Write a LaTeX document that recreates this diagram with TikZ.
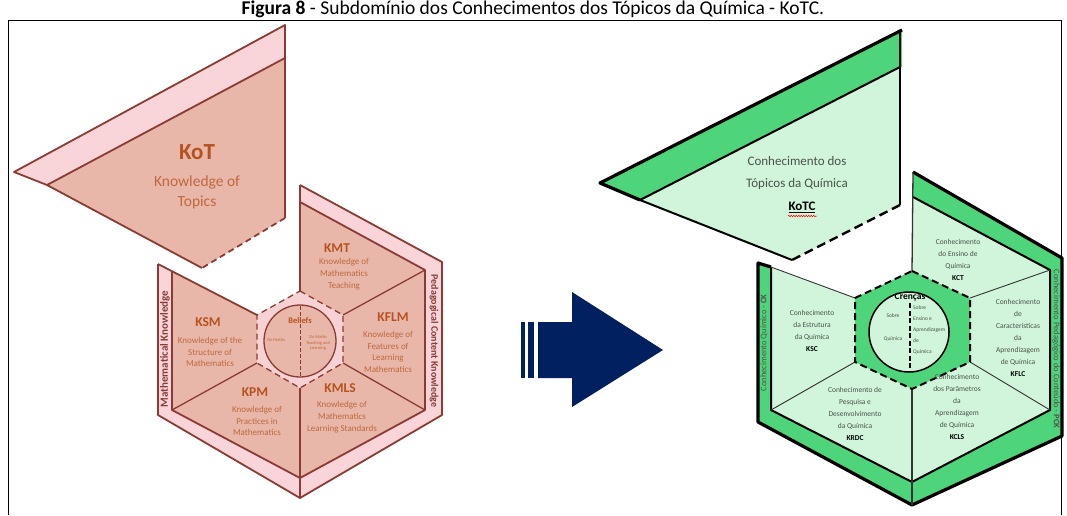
\documentclass[tikz,border=0pt]{standalone}
\usepackage{fontspec}
\setmainfont{Carlito}
\usetikzlibrary{decorations.pathmorphing}

\definecolor{mtskline}{RGB}{138,59,51}
\definecolor{mtskstrip}{RGB}{249,212,216}
\definecolor{mtskfill}{RGB}{233,183,170}
\definecolor{mtskhex}{RGB}{246,210,212}
\definecolor{mtsktitle}{RGB}{181,82,30}
\definecolor{mtsktext}{RGB}{190,104,60}
\definecolor{kotcstrip}{RGB}{78,212,122}
\definecolor{kotcfill}{RGB}{208,245,218}
\definecolor{kotctext}{RGB}{75,82,75}
\definecolor{arrowblue}{RGB}{0,32,96}

\tikzset{
  pinkline/.style={draw=mtskline, line width=1.8pt, line join=round},
  pinkthin/.style={draw=mtskline, line width=1.3pt},
  greenouter/.style={draw=black, line width=3.2pt, line join=round},
  greenline/.style={draw=black, line width=2pt, line join=round},
  greenthin/.style={draw=black!80, line width=0.9pt},
  hexdash/.style={dash pattern=on 6pt off 4pt},
  sectortitle/.style={text=mtsktitle, font=\bfseries\fontsize{13.5}{14}\selectfont},
  sectortext/.style={text=mtsktext, align=center, font=\fontsize{9}{11.7}\selectfont},
  quimtext/.style={text=kotctext, align=center, font=\fontsize{7.5}{11.9}\selectfont},
  sidelabel/.style={font=\bfseries\fontsize{11}{11}\selectfont, text=mtskline},
}

\begin{document}
\begin{tikzpicture}[x=1pt, y=-1pt]
\useasboundingbox (0,0) rectangle (1067,515);

% title and frame
\node[anchor=base, font=\fontsize{19.5}{20}\selectfont, inner sep=0pt] (title) at (533,14)
  {\textbf{Figura 8} - Subdomínio dos Conhecimentos dos Tópicos da Química - KoTC.};
\draw[line width=1pt] (8,515) -- (8,20) -- (1061,20) -- (1061,515);

%%% MTSK (left)
% KoT piece
\fill[mtskstrip] (14,172) -- (285,25) -- (285,58) -- (47,185) -- cycle;
\fill[mtskfill] (47,185) -- (285,58) -- (285,218) -- (202,268) -- cycle;
\draw[pinkline] (47,185) -- (14,172) -- (285,25) -- (285,218);
\draw[pinkline] (202,268) -- (47,185) -- (285,58);
\draw[pinkline, hexdash] (285,218) -- (202,268);

% hexagon strips and sectors
\fill[mtskstrip] (300,185) -- (442,262) -- (442,415) -- (300,498) -- (300,478)
  -- (425,410) -- (425,270) -- (300,202) -- cycle;
\fill[mtskstrip] (158,264) -- (172,271) -- (172,410) -- (300,478) -- (300,498)
  -- (158,415) -- cycle;
\fill[mtskfill] (300,202) -- (425,270) -- (425,410) -- (300,478) -- (172,410)
  -- (172,271) -- (257,315) -- (300,291) -- cycle;
\draw[pinkline] (300,185) -- (442,262) -- (442,415) -- (300,498) -- (158,415) -- (158,264);
\draw[pinkline] (300,202) -- (425,270) -- (425,410) -- (300,478) -- (172,410) -- (172,271);
\draw[pinkline] (158,264) -- (257,315);
\draw[pinkline] (300,185) -- (300,291);
\draw[pinkline] (300,388) -- (300,498);
\draw[pinkthin] (343,315) -- (425,270);
\draw[pinkthin] (343,363) -- (425,410);
\draw[pinkthin] (257,363) -- (172,410);

% beliefs
\fill[mtskhex] (300,291) -- (343,315) -- (343,363) -- (300,388) -- (257,363) -- (257,315) -- cycle;
\draw[pinkthin, hexdash] (300,291) -- (343,315) -- (343,363) -- (300,388) -- (257,363) -- (257,315) -- cycle;
\draw[pinkthin, fill=mtskfill] (300,341) circle (36);
\draw[pinkthin, line width=1pt, dash pattern=on 4pt off 2pt] (300,306) -- (300,377);

\node[text=mtsktitle, font=\bfseries\fontsize{8.5}{9}\selectfont] (beliefs) at (300,321) {Beliefs};
\node[text=mtsktext, font=\fontsize{4.5}{5.5}\selectfont] (onmaths) at (276,340) {On Maths};
\node[text=mtsktext, align=center, font=\fontsize{4.5}{5.5}\selectfont] (onteach) at (318,343)
  {On Maths\\Teaching and\\Learning};

% KoT text
\node[text=mtsktitle, font=\bfseries\fontsize{23}{23}\selectfont] (kot) at (197,152) {KoT};
\node[text=mtsktext, align=center, font=\fontsize{15.5}{20}\selectfont] (kotname) at (197,192)
  {Knowledge of\\Topics};

% sectors
\node[sectortitle] (kmt) at (337,248) {KMT};
\node[sectortext] (kmtname) at (344,274) {Knowledge of\\Mathematics\\Teaching};
\node[sectortitle] (kflm) at (393,317) {KFLM};
\node[sectortext] (kflmname) at (388,352) {Knowledge of\\Features of\\Learning\\Mathematics};
\node[sectortitle] (kmls) at (340,388) {KMLS};
\node[sectortext] (kmlsname) at (342,417) {Knowledge of\\Mathematics\\Learning Standards};
\node[sectortitle] (kpm) at (255,392) {KPM};
\node[sectortext] (kpmname) at (257,421) {Knowledge of\\Practices in\\Mathematics};
\node[sectortitle] (ksm) at (208,322) {KSM};
\node[sectortext] (ksmname) at (210,352) {Knowledge of the\\Structure of\\Mathematics};

\node[sidelabel, rotate=90] (mk) at (165,349) {Mathematical Knowledge};
\node[sidelabel, font=\bfseries\fontsize{10}{10}\selectfont, rotate=-90] (pck) at (434,341)
  {Pedagogical Content Knowledge};

%%% arrow
\fill[arrowblue] (538,322) -- (572,322) -- (572,292) -- (663,350) -- (572,407)
  -- (572,378) -- (538,378) -- cycle;
\fill[arrowblue] (521,322) rectangle (525,378);
\fill[arrowblue] (528,322) rectangle (534,378);

%%% KoTC (right)
% KoTC piece
\fill[kotcstrip] (600,183) -- (902,30) -- (902,67) -- (640,200) -- cycle;
\fill[kotcfill] (640,200) -- (900,67) -- (900,205) -- (792,260) -- cycle;
\draw[greenouter] (640,200) -- (600,183) -- (902,30);
\draw[greenline] (792,260) -- (640,200) -- (900,67);
\draw[greenline] (900,30) -- (900,205);
\draw[greenline, line width=2.4pt, dash pattern=on 9pt off 5pt] (900,205) -- (792,260);

% hexagon strips and sectors
\fill[kotcstrip] (913,172) -- (1062,258) -- (1062,436) -- (912,505) -- (912,482)
  -- (1050,410) -- (1050,270) -- (913,197) -- cycle;
\fill[kotcstrip] (758,263) -- (771,267) -- (771,410) -- (912,482) -- (912,505)
  -- (758,422) -- cycle;
\fill[kotcfill] (913,197) -- (1050,270) -- (1050,410) -- (912,482) -- (771,410)
  -- (771,267) -- (855,298) -- (912,271) -- cycle;
\draw[greenouter] (913,172) -- (1062,258) -- (1062,436) -- (912,505) -- (758,422) -- (758,263) -- (771,267);
\draw[greenline] (913,197) -- (1050,270) -- (1050,410) -- (912,482) -- (771,410) -- (771,267);
\draw[greenthin] (771,267) -- (855,298);
\draw[greenthin, line width=1.3pt] (913,172) -- (912,271);
\draw[greenthin, line width=1.3pt] (912,389) -- (912,505);
\draw[greenthin] (970,298) -- (1050,270);
\draw[greenthin] (970,362) -- (1050,410);
\draw[greenthin] (855,362) -- (771,410);

% beliefs
\fill[kotcstrip] (912,271) -- (970,298) -- (970,362) -- (912,389) -- (855,362) -- (855,298) -- cycle;
\draw[greenline, hexdash, dash pattern=on 7pt off 4pt] (912,271) -- (970,298) -- (970,362) -- (912,389) -- (855,362) -- (855,298) -- cycle;
\draw[draw=black, line width=1.5pt, fill=kotcfill] (909,332) circle (40);
\draw[black, line width=1.5pt, dash pattern=on 5pt off 2.5pt] (910,303) -- (910,372);

\node[font=\bfseries\fontsize{9.5}{10}\selectfont] (crencas) at (910,297) {Crenças};
\node[text=kotctext, align=center, font=\fontsize{5.5}{23}\selectfont] (sobrequim) at (893,327)
  {Sobre\\Química};
\node[text=kotctext, anchor=west, align=left, font=\fontsize{5.5}{11}\selectfont, inner sep=0pt]
  (sobreensino) at (913,330) {Sobre\\Ensino e\\Aprendizagem\\de\\Química};

% KoTC text
\node[text=kotctext, align=center, font=\fontsize{13}{22}\selectfont] (kotcname) at (797,173)
  {Conhecimento dos\\Tópicos da Química};
\node[font=\bfseries\fontsize{13}{13}\selectfont] (kotc) at (802,207) {\underline{KoTC}};
\draw[red, line width=0.5pt, decorate, decoration={snake, amplitude=0.8pt, segment length=2.5pt}]
  (788,216) -- (817,216);

% sectors
\node[quimtext] (kct) at (958,260) {Conhecimento\\do Ensino de\\Química\\\textbf{\color{black}KCT}};
\node[quimtext] (kflc) at (1018,338)
  {Conhecimento\\de\\Características\\da\\Aprendizagem\\de Química\\\textbf{\color{black}KFLC}};
\node[quimtext] (kcls) at (957,407)
  {Conhecimento\\dos Parâmetros\\da\\Aprendizagem\\de Química\\\textbf{\color{black}KCLS}};
\node[quimtext] (krdc) at (855,414)
  {Conhecimento de\\Pesquisa e\\Desenvolvimento\\da Química\\\textbf{\color{black}KRDC}};
\node[quimtext] (ksc) at (812,331) {Conhecimento\\da Estrutura\\da Química\\\textbf{\color{black}KSC}};

\node[text=kotctext, rotate=90, font=\fontsize{8.5}{9}\selectfont] (ck) at (764,343)
  {Conhecimento Químico - \textbf{CK}};
\node[text=kotctext, rotate=-90, font=\fontsize{8.5}{9}\selectfont] (pckq) at (1056,349)
  {Conhecimento Pedagógico do Conteúdo - \textbf{PCK}};
\end{tikzpicture}
\end{document}
